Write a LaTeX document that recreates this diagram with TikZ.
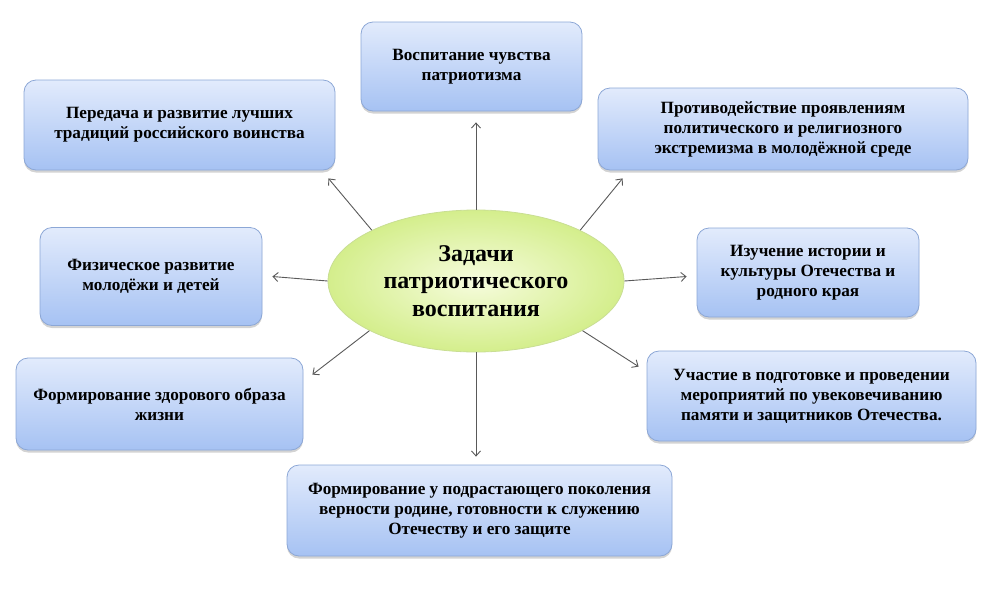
\documentclass[tikz,border=0pt]{standalone}
\usepackage{fontspec}
\setmainfont{Liberation Serif}
\usetikzlibrary{calc,shadows,arrows.meta,shapes.geometric}
\definecolor{boxtop}{HTML}{E2EBFC}
\definecolor{boxbot}{HTML}{A6C2F3}
\definecolor{boxline}{HTML}{8CA7D6}
\definecolor{elin}{HTML}{F6FCDD}
\definecolor{elout}{HTML}{D4EE8C}
\definecolor{elline}{HTML}{C9DE94}
\tikzset{
  taskbox/.style={draw=boxline,line width=0.8pt,rounded corners=12pt,top color=boxtop,bottom color=boxbot,
    drop shadow={shadow xshift=0pt,shadow yshift=-2.5pt,opacity=0.35},inner sep=0pt,align=center,
    font=\fontsize{17.2}{20}\selectfont\bfseries},
  arr/.style={->,draw=black!65,line width=0.9pt}
}
\begin{document}
\begin{tikzpicture}[x=1pt,y=-1pt,>={Straight Barb[length=5pt,width=9pt]}]
  \useasboundingbox (0,0) rectangle (994,595);
  \node[ellipse,draw=elline,line width=0.8pt,inner color=elin,outer color=elout,minimum width=296pt,minimum height=142pt,
    inner sep=0pt,align=center,font=\fontsize{24}{27.5}\selectfont\bfseries] (z) at (476,281)
    {Задачи\\патриотического\\воспитания};
  \node[taskbox,minimum width=221pt,minimum height=89pt] (vosp) at (471.5,66.5) {Воспитание чувства\\патриотизма};
  \node[taskbox,minimum width=311pt,minimum height=90pt] (pered) at (179.5,125) {Передача и развитие лучших\\традиций российского воинства};
  \node[taskbox,minimum width=370pt,minimum height=82pt] (protiv) at (783,129) {Противодействие проявлениям\\политического и религиозного\\экстремизма в молодёжной среде};
  \node[taskbox,minimum width=222pt,minimum height=98pt] (fiz) at (151,276.5) {Физическое развитие\\молодёжи и детей};
  \node[taskbox,minimum width=222pt,minimum height=89pt] (izuch) at (808,272.5) {Изучение истории и\\культуры Отечества и\\родного края};
  \node[taskbox,minimum width=287pt,minimum height=92pt] (zozh) at (159.5,404) {Формирование здорового образа\\жизни};
  \node[taskbox,minimum width=329pt,minimum height=90pt] (uchast) at (811.5,396) {Участие в подготовке и проведении\\мероприятий по увековечиванию\\памяти и защитников Отечества.};
  \node[taskbox,minimum width=385pt,minimum height=91pt] (form) at (479.5,510.5) {Формирование у подрастающего поколения\\верности родине, готовности к служению\\Отечеству и его защите};
  \draw[arr,shorten >=11pt] (z.north) -- (z.north |- vosp.south);
  \draw[arr,shorten >=8pt] (z.south) -- (z.south |- form.north);
  \draw[arr] (z.154) -- ($(pered.south east)+(-7,8)$);
  \draw[arr] (z.26) -- ($(protiv.south west)+(25,8)$);
  \draw[arr] (z.west) -- ($(fiz.east)+(10,0)$);
  \draw[arr] (z.east) -- ($(izuch.west)+(-10,4)$);
  \draw[arr] (z.205) -- ($(zozh.north east)+(9,17)$);
  \draw[arr] (z.335) -- ($(uchast.north west)+(-8,16)$);
\end{tikzpicture}
\end{document}
